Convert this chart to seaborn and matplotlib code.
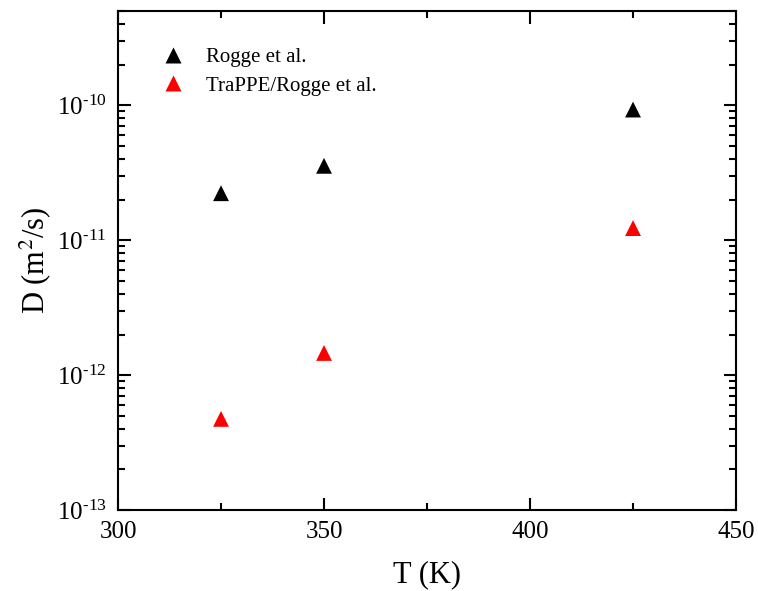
import math

import matplotlib
matplotlib.use("Agg")
import matplotlib.pyplot as plt
import pandas as pd
import seaborn as sns
from matplotlib.ticker import FuncFormatter, LogLocator, MultipleLocator, NullFormatter

temps = [325, 350, 425]
rogge = [2.23e-11, 3.56e-11, 9.3e-11]
trappe = [4.74e-13, 1.46e-12, 1.23e-11]
series_names = ["Rogge et al.", "TraPPE/Rogge et al."]
colors = ["black", "red"]
y_limits = (1e-13, 5e-10)

df = pd.DataFrame(
    {
        "T": temps * 2,
        "D": rogge + trappe,
        "model": [series_names[0]] * len(temps) + [series_names[1]] * len(temps),
    }
)

sns.set_style("ticks")
plt.rcParams["font.family"] = ["Liberation Serif", "DejaVu Serif"]
plt.rcParams["mathtext.fontset"] = "stix"
plt.rcParams["axes.unicode_minus"] = False
plt.rcParams["text.color"] = "black"
plt.rcParams["axes.labelcolor"] = "black"

fig = plt.figure(figsize=(7.58, 5.91), dpi=100)
ax = fig.add_axes([0.1557, 0.137, 0.8153, 0.8444])

sns.scatterplot(
    data=df,
    x="T",
    y="D",
    hue="model",
    palette=dict(zip(series_names, colors)),
    marker="^",
    s=130,
    edgecolor="none",
    ax=ax,
)

ax.set_yscale("log")
ax.set_xlim(300, 450)
ax.set_ylim(*y_limits)
ax.xaxis.set_major_locator(MultipleLocator(50))
ax.xaxis.set_minor_locator(MultipleLocator(25))
ax.yaxis.set_major_locator(LogLocator(base=10, numticks=10))
ax.yaxis.set_minor_locator(LogLocator(base=10, subs=range(2, 10), numticks=20))
ax.yaxis.set_minor_formatter(NullFormatter())


def power_label(value, pos):
    # only label decades inside the visible range
    if value < y_limits[0] * 0.999 or value > y_limits[1]:
        return ""
    exponent = int(round(math.log10(value)))
    return r"$\mathregular{10^{\text{-}%d}}$" % abs(exponent)


ax.yaxis.set_major_formatter(FuncFormatter(power_label))

ax.tick_params(which="both", direction="in", top=True, right=True, width=1.5, colors="black")
ax.tick_params(which="major", length=9, labelsize=18, pad=8)
ax.tick_params(which="minor", length=5)
for spine in ax.spines.values():
    spine.set_linewidth(1.5)
    spine.set_color("black")

ax.set_xlabel("T (K)", fontsize=22, labelpad=12)
ax.set_ylabel("D (m$^2$/s)", fontsize=22, labelpad=3)

ax.legend(
    loc="upper left",
    bbox_to_anchor=(0.025, 0.965),
    frameon=False,
    fontsize=15,
    handletextpad=0.6,
    labelspacing=0.45,
    markerscale=1.0,
    title=None,
)

fig.savefig("out.png", dpi=100)
